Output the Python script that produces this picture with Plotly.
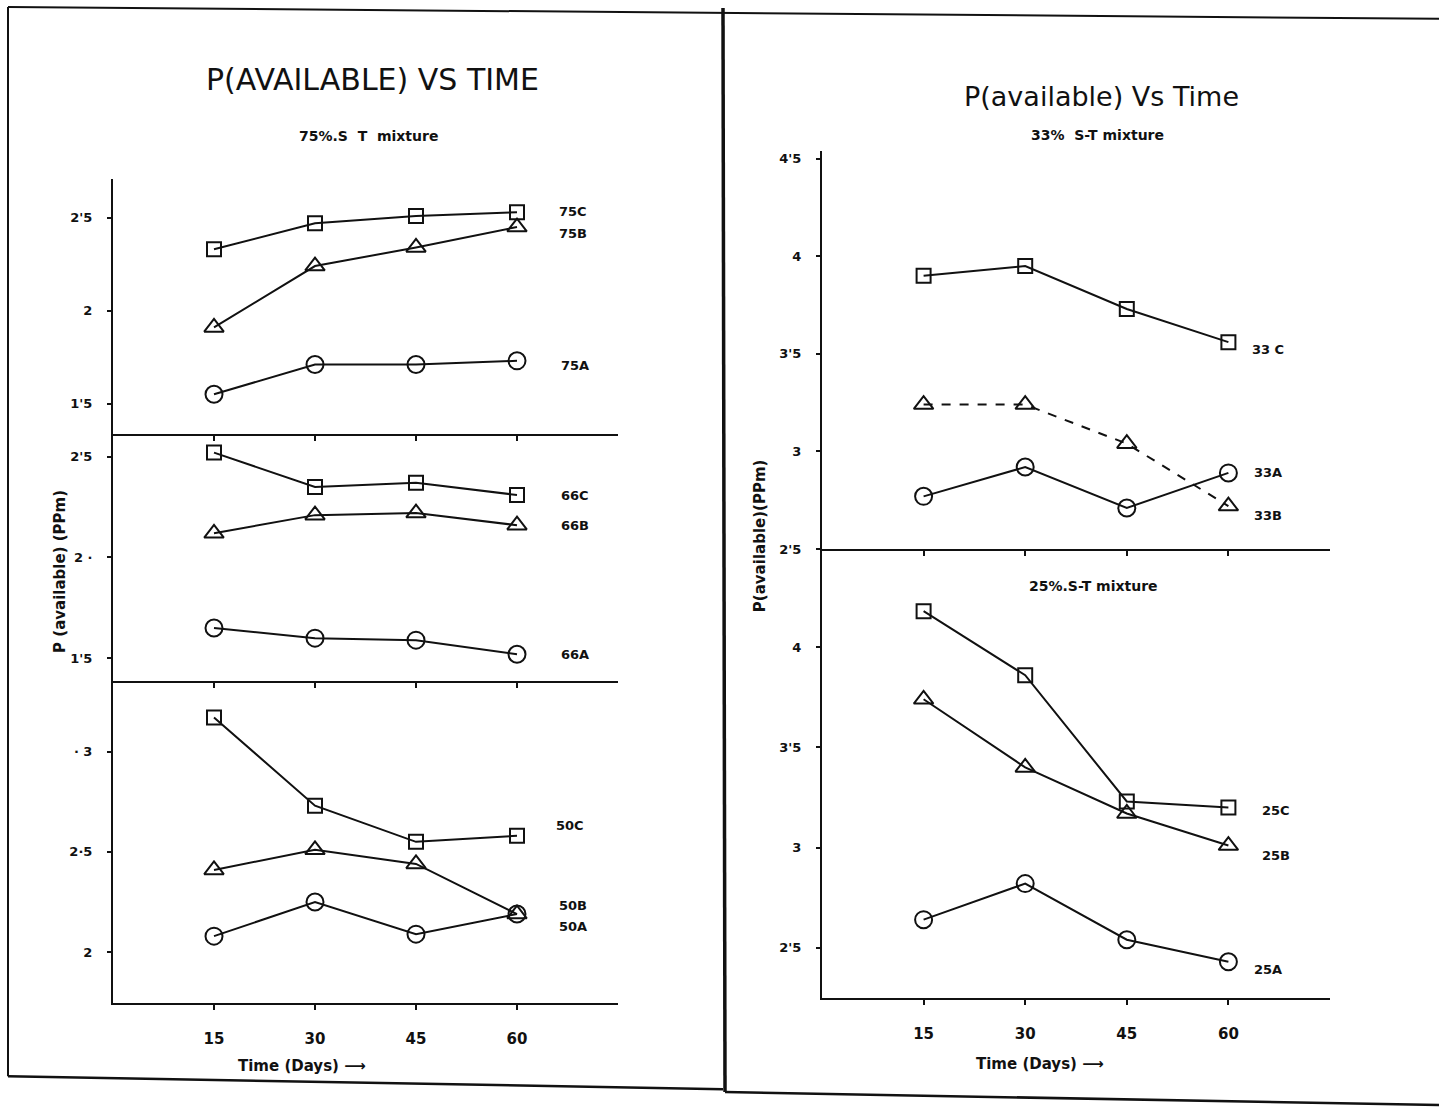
import plotly.graph_objects as go

# Sampling days
days = [15, 30, 45, 60]

# Available P (ppm) for each soil-treatment mixture
p75_A = [1.55, 1.71, 1.71, 1.73]
p75_B = [1.91, 2.24, 2.34, 2.45]
p75_C = [2.33, 2.47, 2.51, 2.53]

p66_A = [1.65, 1.60, 1.59, 1.52]
p66_B = [2.12, 2.21, 2.22, 2.16]
p66_C = [2.52, 2.35, 2.37, 2.31]

p50_A = [2.08, 2.25, 2.09, 2.19]
p50_B = [2.41, 2.51, 2.44, 2.19]
p50_C = [3.17, 2.73, 2.55, 2.58]

p33_A = [2.77, 2.92, 2.71, 2.89]
p33_B = [3.24, 3.24, 3.04, 2.72]
p33_C = [3.90, 3.95, 3.73, 3.56]

p25_A = [2.64, 2.82, 2.54, 2.43]
p25_B = [3.74, 3.40, 3.17, 3.01]
p25_C = [4.18, 3.86, 3.23, 3.20]

# Tick values / labels per panel
ticks_75 = [1.5, 2.0, 2.5]
ticklab_75 = ["1'5", "2", "2'5"]
ticks_66 = [1.5, 2.0, 2.5]
ticklab_66 = ["1'5", "2 ·", "2'5"]
ticks_50 = [2.0, 2.5, 3.0]
ticklab_50 = ["2", "2·5", "· 3"]
ticks_33 = [2.5, 3.0, 3.5, 4.0, 4.5]
ticklab_33 = ["2'5", "3", "3'5", "4", "4'5"]
ticks_25 = [2.5, 3.0, 3.5, 4.0]
ticklab_25 = ["2'5", "3", "3'5", "4"]
time_ticks = ["15", "30", "45", "60"]

W, H = 1439, 1116
INK = "#111111"
FONT = "DejaVu Sans"

def px(x):
    return x / W

def py(y):
    return 1 - y / H

# panel layout: x-domain px, y-domain px (top, bottom), y range
panels = {
    1: dict(xd=(113, 618), yd=(180, 437), yr=(1.337, 2.71), tv=ticks_75, tt=ticklab_75, bottom=False),
    2: dict(xd=(113, 618), yd=(437, 686), yr=(1.387, 2.613), tv=ticks_66, tt=ticklab_66, bottom=False),
    3: dict(xd=(113, 618), yd=(686, 1010), yr=(1.748, 3.351), tv=ticks_50, tt=ticklab_50, bottom=True),
    4: dict(xd=(822, 1330), yd=(152, 553), yr=(2.5, 4.54), tv=ticks_33, tt=ticklab_33, bottom=False),
    5: dict(xd=(822, 1330), yd=(553, 1005), yr=(2.25, 4.49), tv=ticks_25, tt=ticklab_25, bottom=True),
}

series = [
    # (panel, values, marker, label, dash, label xshift, label yshift)
    (1, p75_C, "square-open", "75C", "solid", 40, 1),
    (1, p75_B, "triangle-up-open", "75B", "solid", 40, -6),
    (1, p75_A, "circle-open", "75A", "solid", 42, -5),
    (2, p66_C, "square-open", "66C", "solid", 42, -1),
    (2, p66_B, "triangle-up-open", "66B", "solid", 42, 0),
    (2, p66_A, "circle-open", "66A", "solid", 42, 0),
    (3, p50_C, "square-open", "50C", "solid", 37, 10),
    (3, p50_B, "triangle-up-open", "50B", "solid", 40, 9),
    (3, p50_A, "circle-open", "50A", "solid", 40, -12),
    (4, p33_C, "square-open", "33 C", "solid", 22, -7),
    (4, p33_A, "circle-open", "33A", "solid", 24, 0),
    (4, p33_B, "triangle-up-open", "33B", "dash", 24, -9),
    (5, p25_C, "square-open", "25C", "solid", 32, -3),
    (5, p25_B, "triangle-up-open", "25B", "solid", 32, -10),
    (5, p25_A, "circle-open", "25A", "solid", 24, -8),
]

fig = go.Figure()
annotations = []

for pnum, vals, sym, lab, dash, dx, dy in series:
    sfx = "" if pnum == 1 else str(pnum)
    size = 14 if sym == "square-open" else 17
    fig.add_trace(go.Scatter(
        x=days, y=vals, mode="lines+markers",
        xaxis="x" + sfx, yaxis="y" + sfx,
        line=dict(color=INK, width=2, dash=dash),
        marker=dict(symbol=sym, size=size, color=INK, line=dict(width=2, color=INK)),
        showlegend=False, name=lab,
    ))
    annotations.append(dict(
        x=days[-1], y=vals[-1], xref="x" + sfx, yref="y" + sfx,
        text="<b>" + lab + "</b>", showarrow=False, xanchor="left", yanchor="middle",
        xshift=dx, yshift=dy, font=dict(family=FONT, size=13, color=INK),
    ))

layout_axes = {}
for pnum, p in panels.items():
    sfx = "" if pnum == 1 else str(pnum)
    layout_axes["xaxis" + sfx] = dict(
        domain=[px(p["xd"][0]), px(p["xd"][1])], range=[0, 75],
        anchor="y" + sfx, showline=True, linecolor=INK, linewidth=2,
        tickmode="array", tickvals=days,
        ticktext=["<b>" + t + "</b>" for t in time_ticks],
        ticks="outside", ticklen=5, tickcolor=INK, tickwidth=1.5,
        showticklabels=p["bottom"], showgrid=False, zeroline=False,
        ticklabelstandoff=16,
        tickfont=dict(family=FONT, size=15, color=INK),
    )
    layout_axes["yaxis" + sfx] = dict(
        domain=[py(p["yd"][1]), py(p["yd"][0])], range=list(p["yr"]),
        anchor="x" + sfx, showline=True, linecolor=INK, linewidth=2,
        tickmode="array", tickvals=p["tv"],
        ticktext=["<b>" + t + "</b>" for t in p["tt"]],
        ticks="outside", ticklen=4, tickcolor=INK, tickwidth=1.5,
        showgrid=False, zeroline=False, ticklabelstandoff=12,
        tickfont=dict(family=FONT, size=13, color=INK),
    )

texts = [
    # titles and axis captions placed in page coordinates
    dict(x=px(372), y=py(80), text="P(AVAILABLE) VS TIME", size=30, angle=0, bold=False),
    dict(x=px(368), y=py(137), text="75%.S  T  mixture", size=14, angle=0, bold=True),
    dict(x=px(1101), y=py(97), text="P(available) Vs Time", size=27, angle=0, bold=False),
    dict(x=px(1097), y=py(136), text="33%  S-T mixture", size=14, angle=0, bold=True),
    dict(x=px(1093), y=py(590), text="25%.S-T mixture", size=14, angle=0, bold=True),
    dict(x=px(302), y=py(1074), text="Time (Days) ⟶", size=15, angle=0, bold=True),
    dict(x=px(1040), y=py(1072), text="Time (Days) ⟶", size=15, angle=0, bold=True),
    dict(x=px(60), y=py(575), text="P (available) (PPm)", size=15, angle=-90, bold=True),
    dict(x=px(760), y=py(540), text="P(available)(PPm)", size=15, angle=-90, bold=True),
]
for t in texts:
    txt = "<b>" + t["text"] + "</b>" if t["bold"] else t["text"]
    annotations.append(dict(
        x=t["x"], y=t["y"], xref="paper", yref="paper", text=txt,
        showarrow=False, xanchor="center", yanchor="middle", textangle=t["angle"],
        font=dict(family=FONT, size=t["size"], color=INK),
    ))

# Panel frames
frame = [
    ((8, 7), (1439, 19), 2),
    ((8, 7), (8, 1084), 2),
    ((8, 1084), (723, 1097), 2.5),
    ((723, 8), (725, 1100), 3.5),
    ((725, 1100), (1439, 1113), 2.5),
]
shapes = [dict(type="line", xref="paper", yref="paper",
               x0=px(a[0]), y0=py(a[1]), x1=px(b[0]), y1=py(b[1]),
               line=dict(color=INK, width=w)) for a, b, w in frame]

fig.update_layout(
    width=W, height=H, margin=dict(l=0, r=0, t=0, b=0),
    paper_bgcolor="white", plot_bgcolor="white",
    annotations=annotations, shapes=shapes, **layout_axes,
)

fig.write_html("out.html", config={"displayModeBar": False})
